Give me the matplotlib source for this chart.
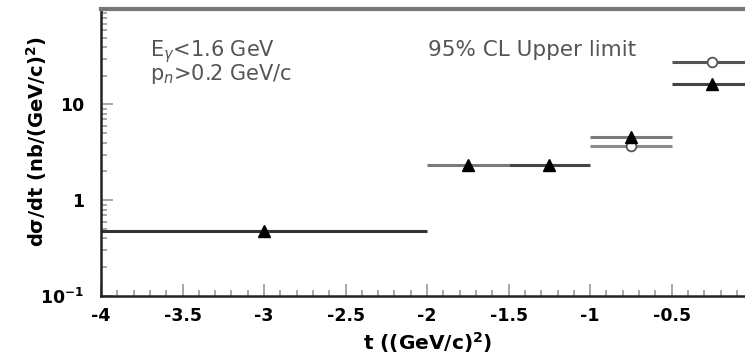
import matplotlib.pyplot as plt
from matplotlib.ticker import FixedLocator, LogLocator, NullFormatter, FixedFormatter

plt.rcParams['font.family'] = ['DejaVu Sans']

# measured points (triangles) and 95% CL upper limits (open circles)
t_meas = [-3.0, -1.75, -1.25, -0.75, -0.25]
t_meas_halfwidth = [1.0, 0.25, 0.25, 0.25, 0.25]
dsdt_meas = [0.475, 2.35, 2.35, 4.55, 16.3]
meas_colors = ['#333333', '#7a7a7a', '#444444', '#7a7a7a', '#444444']

t_ul = [-0.75, -0.25]
t_ul_halfwidth = [0.25, 0.25]
dsdt_ul = [3.7, 28.0]
ul_colors = ['#8a8a8a', '#555555']

x_ticks = [-4, -3.5, -3, -2.5, -2, -1.5, -1, -0.5]
x_ticklabels = ['-4', '-3.5', '-3', '-2.5', '-2', '-1.5', '-1', '-0.5']

fig = plt.figure(figsize=(7.45, 3.62), dpi=100)
ax = fig.add_axes([0.1356, 0.182, 0.8644, 0.794])

for t, w, y, c in zip(t_meas, t_meas_halfwidth, dsdt_meas, meas_colors):
    ax.hlines(y, t - w, t + w, color=c, lw=2.2, zorder=2)
    ax.plot(t, y, marker='^', color='black', ms=8.5, zorder=4)

for t, w, y, c in zip(t_ul, t_ul_halfwidth, dsdt_ul, ul_colors):
    ax.hlines(y, t - w, t + w, color=c, lw=2.2, zorder=2)
    ax.plot(t, y, marker='o', mfc='white', mec='#555555', mew=1.3, ms=7, zorder=3)

ax.set_yscale('log')
ax.set_xlim(-4, -0.05)
ax.set_ylim(0.1, 100)

ax.xaxis.set_major_locator(FixedLocator(x_ticks))
ax.xaxis.set_major_formatter(FixedFormatter(x_ticklabels))
ax.xaxis.set_minor_locator(FixedLocator([-4 + 0.1 * i for i in range(40)]))
ax.yaxis.set_major_locator(FixedLocator([0.1, 1, 10]))
ax.yaxis.set_major_formatter(FixedFormatter(['10$^{\\mathbf{-1}}$', '1', '10']))
ax.yaxis.set_minor_locator(LogLocator(base=10, subs=range(2, 10)))
ax.yaxis.set_minor_formatter(NullFormatter())

ax.tick_params(which='both', direction='in', color='#999999', width=1.2)
ax.tick_params(which='major', length=8.5, labelsize=12.5, pad=8)
ax.tick_params(which='minor', length=4.2)
ax.tick_params(axis='y', which='major', pad=12)
for lab in ax.get_xticklabels() + ax.get_yticklabels():
    lab.set_fontweight('bold')

ax.spines['left'].set_linewidth(1.8)
ax.spines['left'].set_color('#222222')
ax.spines['bottom'].set_linewidth(1.8)
ax.spines['bottom'].set_color('#222222')
ax.spines['top'].set_linewidth(3)
ax.spines['top'].set_color('#777777')
ax.spines['right'].set_visible(False)

fig.text(428 / 745, 1 - 343 / 362, 't ((GeV/c)$^{\\mathbf{2}}$)', fontsize=14.5,
         fontweight='bold', ha='center', va='center')
fig.text(37 / 745, 1 - 142 / 362, 'd$\\mathbf{\\sigma}$/dt (nb/(GeV/c)$^{\\mathbf{2}}$)',
         fontsize=14, fontweight='bold', ha='center', va='center', rotation=90)

ax.text(0.076, 0.852, 'E$_{\\gamma}$<1.6 GeV', transform=ax.transAxes,
        fontsize=15, color='#555555', va='center')
ax.text(0.076, 0.772, 'p$_{n}$>0.2 GeV/c', transform=ax.transAxes,
        fontsize=15, color='#555555', va='center')
ax.text(0.508, 0.855, '95% CL Upper limit', transform=ax.transAxes,
        fontsize=15.5, color='#555555', va='center')

fig.savefig('out.png', dpi=100)
